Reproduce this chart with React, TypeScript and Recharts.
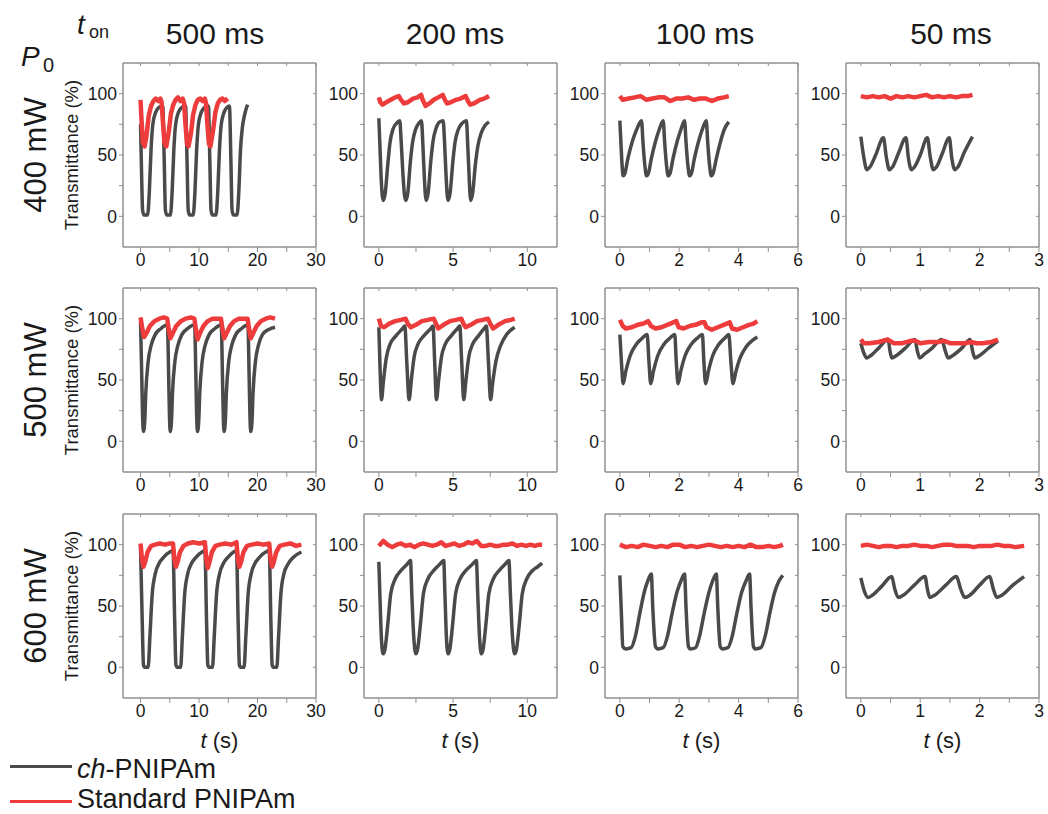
import { Line, LineChart, ReferenceArea, XAxis, YAxis } from "recharts";

type Pt = [number, number];

const pulseWidths = ["500 ms", "200 ms", "100 ms", "50 ms"];
const laserPowers = ["400 mW", "500 mW", "600 mW"];

const timeDomains: [number, number][] = [[-3, 30], [-1, 12], [-0.5, 6], [-0.25, 3]];
const timeTicks: number[][] = [
  [0, 5, 10, 15, 20, 25, 30],
  [0, 2.5, 5, 7.5, 10],
  [0, 1, 2, 3, 4, 5, 6],
  [0, 0.5, 1, 1.5, 2, 2.5, 3],
];
const timeLabelSteps = [10, 5, 2, 1];
const transDomain: [number, number] = [-25, 125];
const transTicks = [0, 25, 50, 75, 100];
const transLabelStep = 50;

// ---- 400 mW ----
const ch400_500: Pt[] = [
  [0, 75], [0.2, 30], [0.35, 5], [0.6, 1], [1.2, 1], [1.5, 20], [1.8, 55], [2.1, 75], [2.6, 85], [3.2, 89],
  [3.8, 90], [4.05, 45], [4.25, 5], [4.5, 1], [5.1, 1], [5.4, 20], [5.7, 55], [6.0, 75], [6.5, 85], [7.1, 89],
  [7.7, 90], [7.95, 45], [8.15, 5], [8.4, 1], [9.0, 1], [9.3, 20], [9.6, 55], [9.9, 75], [10.4, 85], [11.0, 89],
  [11.6, 90], [11.85, 45], [12.05, 5], [12.3, 1], [12.9, 1], [13.2, 20], [13.5, 55], [13.8, 75], [14.3, 85], [14.8, 89],
  [15.2, 90], [15.45, 45], [15.65, 5], [15.9, 1], [16.5, 1], [16.8, 20], [17.1, 55], [17.4, 72], [17.8, 83], [18.3, 91],
];
const std400_500: Pt[] = [
  [0, 95], [0.15, 80], [0.4, 60], [0.7, 57], [1.0, 65], [1.4, 82], [1.8, 90], [2.2, 94], [2.6, 96], [3.0, 94], [3.4, 96],
  [3.6, 93], [3.85, 75], [4.1, 60], [4.4, 57], [4.8, 68], [5.2, 84], [5.6, 91], [6.0, 95], [6.4, 97], [6.8, 94], [7.2, 96],
  [7.45, 92], [7.7, 74], [7.95, 59], [8.2, 57], [8.6, 67], [9.0, 83], [9.4, 91], [9.8, 95], [10.2, 96], [10.6, 94], [11.0, 96],
  [11.2, 92], [11.45, 74], [11.7, 59], [11.95, 57], [12.4, 70], [12.8, 85], [13.2, 92], [13.6, 95], [14.0, 96], [14.4, 94], [14.9, 96],
];
const ch400_200: Pt[] = [
  [0, 80], [0.08, 55], [0.17, 28], [0.29, 13], [0.42, 18], [0.6, 42], [0.75, 60], [0.95, 71], [1.2, 76], [1.41, 78],
  [1.5, 62], [1.62, 35], [1.72, 18], [1.82, 13], [1.95, 19], [2.12, 44], [2.28, 61], [2.48, 71], [2.7, 76], [2.87, 78],
  [2.96, 60], [3.06, 33], [3.13, 18], [3.19, 13], [3.32, 19], [3.5, 45], [3.66, 62], [3.86, 72], [4.1, 77], [4.33, 78],
  [4.42, 62], [4.52, 35], [4.6, 18], [4.66, 13], [4.8, 19], [4.98, 44], [5.14, 61], [5.36, 71], [5.62, 76], [5.9, 78],
  [5.98, 60], [6.08, 33], [6.14, 18], [6.19, 13], [6.32, 19], [6.5, 42], [6.68, 58], [6.9, 68], [7.15, 74], [7.42, 77],
];
const std400_200: Pt[] = [
  [0, 97], [0.1, 93], [0.25, 91], [0.5, 93], [0.8, 95], [1.1, 97], [1.35, 98], [1.5, 95], [1.7, 92], [1.95, 93],
  [2.3, 96], [2.6, 97], [2.85, 99], [2.95, 95], [3.15, 90], [3.4, 92], [3.7, 95], [4.0, 97], [4.3, 99], [4.45, 95],
  [4.6, 92], [4.85, 93], [5.2, 95], [5.5, 96], [5.85, 98], [6.0, 94], [6.15, 91], [6.4, 92], [6.8, 95], [7.1, 96], [7.42, 98],
];
const ch400_100: Pt[] = [
  [0, 78], [0.04, 58], [0.08, 40], [0.11, 33], [0.17, 35], [0.27, 47], [0.42, 61], [0.57, 71], [0.73, 78],
  [0.78, 60], [0.84, 42], [0.9, 33], [0.96, 35], [1.06, 47], [1.2, 61], [1.33, 71], [1.46, 78],
  [1.51, 60], [1.57, 42], [1.63, 33], [1.69, 35], [1.79, 47], [1.93, 61], [2.06, 71], [2.18, 78],
  [2.23, 60], [2.29, 42], [2.35, 33], [2.41, 35], [2.51, 47], [2.65, 61], [2.78, 71], [2.91, 78],
  [2.96, 60], [3.02, 42], [3.08, 33], [3.14, 35], [3.24, 46], [3.38, 60], [3.52, 71], [3.67, 77],
];
const std400_100: Pt[] = [
  [0, 98], [0.1, 95], [0.3, 96], [0.5, 97], [0.7, 98], [0.9, 95], [1.1, 96], [1.3, 97], [1.5, 97], [1.7, 94],
  [1.9, 96], [2.1, 96], [2.3, 97], [2.5, 95], [2.7, 96], [2.9, 96], [3.1, 94], [3.3, 96], [3.5, 97], [3.67, 98],
];
const ch400_50: Pt[] = [
  [0, 65], [0.05, 48], [0.1, 38], [0.15, 40], [0.25, 50], [0.38, 64], [0.43, 48], [0.48, 38], [0.53, 40], [0.63, 51],
  [0.76, 64], [0.8, 48], [0.85, 38], [0.9, 40], [1.0, 50], [1.12, 64], [1.17, 48], [1.22, 38], [1.27, 40], [1.37, 51],
  [1.49, 64], [1.53, 48], [1.58, 38], [1.63, 40], [1.74, 52], [1.88, 65],
];
const std400_50: Pt[] = [
  [0, 98], [0.1, 97], [0.2, 98], [0.3, 97], [0.4, 98], [0.5, 96], [0.6, 98], [0.7, 97], [0.8, 98], [0.9, 97],
  [1.0, 98], [1.1, 99], [1.2, 97], [1.3, 98], [1.4, 97], [1.5, 98], [1.6, 97], [1.7, 98], [1.8, 98], [1.88, 99],
];

// ---- 500 mW ----
const ch500_500: Pt[] = [
  [0, 97], [0.2, 55], [0.35, 20], [0.5, 8], [0.7, 15], [0.9, 40], [1.3, 65], [1.8, 78], [2.5, 87], [3.5, 92],
  [4.6, 95], [4.8, 55], [4.95, 20], [5.07, 8], [5.27, 15], [5.47, 40], [5.87, 65], [6.37, 78], [7.07, 87], [8.07, 92],
  [9.25, 95], [9.45, 55], [9.6, 20], [9.73, 8], [9.93, 15], [10.13, 40], [10.53, 65], [11.03, 78], [11.73, 87], [12.73, 92],
  [13.8, 95], [14.0, 55], [14.15, 20], [14.28, 8], [14.48, 15], [14.68, 40], [15.08, 65], [15.58, 78], [16.28, 87], [17.28, 92],
  [18.36, 95], [18.56, 55], [18.71, 20], [18.84, 8], [19.04, 15], [19.24, 40], [19.64, 65], [20.14, 78], [20.84, 87], [21.84, 91], [23, 93],
];
const std500_500: Pt[] = [
  [0, 101], [0.3, 92], [0.6, 85], [1.0, 88], [1.6, 94], [2.4, 98], [3.2, 100], [4.0, 101], [4.55, 100],
  [4.8, 92], [5.1, 84], [5.5, 88], [6.1, 94], [6.9, 98], [7.7, 100], [8.6, 101], [9.2, 100],
  [9.45, 92], [9.75, 83], [10.15, 88], [10.75, 94], [11.5, 98], [12.3, 100], [13.2, 100], [13.75, 100],
  [14.0, 92], [14.3, 84], [14.7, 88], [15.3, 94], [16.0, 98], [16.8, 100], [17.6, 100], [18.3, 100],
  [18.55, 92], [18.85, 84], [19.25, 88], [19.85, 94], [20.6, 98], [21.4, 100], [22.2, 101], [23, 100],
];
const ch500_200: Pt[] = [
  [0, 93], [0.08, 60], [0.18, 34], [0.3, 48], [0.5, 68], [0.75, 79], [1.15, 86], [1.6, 92], [1.75, 94],
  [1.88, 65], [2.04, 34], [2.18, 49], [2.38, 69], [2.63, 79], [3.03, 86], [3.5, 92], [3.65, 94],
  [3.76, 65], [3.88, 34], [4.02, 49], [4.22, 69], [4.47, 79], [4.87, 86], [5.3, 92], [5.45, 94],
  [5.58, 65], [5.72, 34], [5.86, 49], [6.06, 69], [6.31, 79], [6.71, 86], [7.1, 92], [7.24, 94],
  [7.38, 65], [7.53, 34], [7.67, 48], [7.9, 66], [8.2, 78], [8.6, 87], [9.15, 93],
];
const std500_200: Pt[] = [
  [0, 100], [0.15, 94], [0.35, 93], [0.7, 96], [1.1, 98], [1.5, 99], [1.8, 100], [1.95, 96], [2.15, 93],
  [2.5, 95], [2.9, 98], [3.3, 99], [3.7, 100], [3.85, 96], [4.0, 92], [4.35, 95], [4.8, 98], [5.2, 99],
  [5.55, 100], [5.7, 96], [5.85, 93], [6.2, 95], [6.6, 98], [7.0, 99], [7.35, 100], [7.5, 96], [7.7, 92],
  [8.05, 95], [8.5, 98], [8.9, 99], [9.15, 100],
];
const ch500_100: Pt[] = [
  [0, 87], [0.06, 62], [0.11, 47], [0.2, 57], [0.35, 70], [0.55, 79], [0.75, 84], [0.92, 87],
  [0.98, 65], [1.04, 47], [1.13, 57], [1.28, 70], [1.48, 79], [1.68, 84], [1.85, 87],
  [1.9, 65], [1.96, 47], [2.05, 57], [2.2, 70], [2.4, 79], [2.6, 84], [2.78, 87],
  [2.83, 65], [2.89, 47], [2.98, 57], [3.13, 70], [3.33, 79], [3.53, 84], [3.67, 87],
  [3.74, 65], [3.81, 47], [3.9, 56], [4.05, 68], [4.25, 77], [4.45, 82], [4.63, 85],
];
const std500_100: Pt[] = [
  [0, 99], [0.1, 94], [0.2, 92], [0.4, 93], [0.6, 95], [0.8, 96], [0.95, 98], [1.05, 94], [1.2, 92], [1.4, 93],
  [1.6, 95], [1.8, 97], [1.9, 98], [1.98, 93], [2.15, 92], [2.35, 94], [2.55, 95], [2.75, 97], [2.85, 97],
  [2.92, 93], [3.1, 91], [3.3, 93], [3.5, 95], [3.7, 97], [3.78, 92], [3.95, 91], [4.15, 93], [4.35, 95], [4.5, 96], [4.63, 98],
];
const ch500_50: Pt[] = [
  [0, 80], [0.05, 72], [0.1, 68], [0.17, 70], [0.3, 76], [0.46, 83], [0.49, 74], [0.52, 68], [0.6, 70], [0.75, 76],
  [0.91, 83], [0.95, 74], [0.99, 68], [1.07, 71], [1.2, 76], [1.36, 83], [1.42, 74], [1.47, 68], [1.55, 70], [1.7, 76],
  [1.84, 83], [1.88, 74], [1.92, 68], [2.0, 70], [2.15, 76], [2.31, 82],
];
const std500_50: Pt[] = [
  [0, 83], [0.05, 80], [0.15, 80], [0.3, 81], [0.45, 83], [0.55, 80], [0.7, 80], [0.85, 82], [0.92, 82], [1.0, 80],
  [1.15, 81], [1.3, 81], [1.4, 82], [1.5, 80], [1.6, 80], [1.75, 80], [1.85, 81], [1.95, 80], [2.05, 80], [2.2, 81], [2.31, 83],
];

// ---- 600 mW ----
const ch600_500: Pt[] = [
  [0, 97], [0.3, 35], [0.5, 2], [0.7, 0], [1.3, 0], [1.6, 25], [2.0, 60], [2.5, 76], [3.2, 85], [4.0, 90], [5.0, 94],
  [5.55, 95], [5.85, 35], [6.05, 2], [6.25, 0], [6.85, 0], [7.15, 25], [7.55, 60], [8.05, 76], [8.75, 85], [9.55, 90], [10.5, 94],
  [11.0, 95], [11.3, 35], [11.5, 2], [11.7, 0], [12.3, 0], [12.6, 25], [13.0, 60], [13.5, 76], [14.2, 85], [15.0, 90], [15.9, 94],
  [16.4, 95], [16.7, 35], [16.9, 2], [17.1, 0], [17.7, 0], [18.0, 25], [18.4, 60], [18.9, 76], [19.6, 85], [20.4, 90], [21.4, 94],
  [22.0, 95], [22.3, 35], [22.5, 2], [22.7, 0], [23.3, 0], [23.6, 25], [24.0, 60], [24.5, 76], [25.2, 84], [26.2, 90], [27.5, 94],
];
const std600_500: Pt[] = [
  [0, 101], [0.25, 88], [0.5, 82], [0.8, 86], [1.2, 94], [1.8, 99], [2.5, 100], [3.3, 101], [4.2, 100], [5.0, 101],
  [5.55, 101], [5.8, 88], [6.05, 82], [6.35, 86], [6.75, 94], [7.35, 99], [8.1, 101], [9.0, 102], [10.0, 101],
  [11.0, 102], [11.25, 88], [11.5, 81], [11.8, 86], [12.2, 94], [12.8, 99], [13.5, 100], [14.5, 101], [15.5, 100],
  [16.4, 102], [16.65, 88], [16.9, 82], [17.2, 86], [17.6, 94], [18.2, 99], [19.0, 100], [20.0, 101], [21.0, 100],
  [22.0, 101], [22.25, 88], [22.5, 82], [22.8, 86], [23.2, 94], [23.8, 99], [24.6, 100], [25.6, 101], [26.6, 99], [27.5, 100],
];
const ch600_200: Pt[] = [
  [0, 86], [0.08, 55], [0.18, 22], [0.29, 11], [0.4, 14], [0.6, 35], [0.8, 60], [1.1, 72], [1.5, 79], [1.9, 84], [2.13, 87],
  [2.22, 60], [2.35, 25], [2.49, 11], [2.6, 14], [2.8, 35], [3.0, 60], [3.3, 72], [3.7, 79], [4.1, 84], [4.37, 87],
  [4.45, 60], [4.55, 25], [4.66, 11], [4.77, 14], [4.97, 35], [5.17, 60], [5.47, 72], [5.87, 79], [6.3, 84], [6.57, 87],
  [6.66, 60], [6.78, 25], [6.9, 11], [7.01, 14], [7.21, 35], [7.41, 60], [7.71, 72], [8.11, 79], [8.5, 84], [8.76, 87],
  [8.86, 60], [9.0, 25], [9.15, 11], [9.26, 14], [9.46, 35], [9.66, 60], [9.96, 72], [10.36, 79], [10.7, 82], [11.0, 85],
];
const std600_200: Pt[] = [
  [0, 99], [0.3, 103], [0.6, 100], [0.9, 98], [1.2, 100], [1.5, 101], [1.8, 99], [2.1, 100], [2.4, 98], [2.7, 100],
  [3.0, 101], [3.3, 100], [3.6, 99], [3.9, 100], [4.2, 102], [4.5, 99], [4.8, 100], [5.1, 101], [5.4, 99], [5.7, 100],
  [6.0, 102], [6.3, 101], [6.6, 103], [6.9, 99], [7.2, 99], [7.5, 100], [7.8, 99], [8.1, 99], [8.4, 100], [8.7, 100],
  [9.0, 101], [9.3, 99], [9.6, 100], [9.9, 99], [10.2, 100], [10.5, 99], [10.8, 100], [11.0, 100],
];
const ch600_100: Pt[] = [
  [0, 75], [0.05, 45], [0.1, 17], [0.2, 15], [0.38, 16], [0.52, 25], [0.68, 45], [0.83, 62], [0.95, 71], [1.06, 76],
  [1.11, 48], [1.2, 17], [1.28, 15], [1.46, 16], [1.6, 25], [1.76, 44], [1.92, 61], [2.05, 70], [2.18, 76],
  [2.23, 48], [2.31, 17], [2.38, 15], [2.55, 16], [2.68, 25], [2.84, 44], [3.0, 61], [3.12, 70], [3.25, 76],
  [3.3, 48], [3.38, 17], [3.46, 15], [3.64, 16], [3.78, 25], [3.94, 44], [4.1, 61], [4.24, 70], [4.37, 76],
  [4.42, 48], [4.5, 17], [4.57, 15], [4.75, 16], [4.9, 26], [5.05, 44], [5.2, 60], [5.35, 70], [5.49, 75],
];
const std600_100: Pt[] = [
  [0, 100], [0.2, 98], [0.4, 99], [0.6, 98], [0.8, 100], [1.0, 99], [1.2, 98], [1.4, 99], [1.6, 98], [1.8, 100],
  [2.0, 100], [2.2, 98], [2.4, 99], [2.6, 98], [2.8, 99], [3.0, 100], [3.2, 99], [3.4, 98], [3.6, 99], [3.8, 98],
  [4.0, 99], [4.2, 98], [4.4, 100], [4.6, 98], [4.8, 98], [5.0, 99], [5.2, 98], [5.4, 99], [5.49, 100],
];
const ch600_50: Pt[] = [
  [0, 73], [0.06, 62], [0.12, 57], [0.2, 59], [0.35, 66], [0.52, 74], [0.57, 64], [0.63, 57], [0.72, 59], [0.9, 67],
  [1.08, 74], [1.12, 64], [1.16, 57], [1.25, 59], [1.43, 67], [1.61, 74], [1.68, 64], [1.75, 57], [1.84, 59], [2.0, 67],
  [2.17, 74], [2.23, 64], [2.29, 57], [2.38, 59], [2.56, 67], [2.75, 74],
];
const std600_50: Pt[] = [
  [0, 99], [0.1, 100], [0.2, 99], [0.3, 98], [0.4, 99], [0.5, 99], [0.6, 98], [0.7, 99], [0.8, 99], [0.9, 100],
  [1.0, 99], [1.1, 99], [1.2, 98], [1.3, 99], [1.4, 100], [1.5, 100], [1.6, 99], [1.7, 99], [1.8, 99], [1.9, 98],
  [2.0, 99], [2.1, 99], [2.2, 99], [2.3, 100], [2.4, 99], [2.5, 99], [2.6, 98], [2.75, 99],
];

const chTraces: Pt[][][] = [
  [ch400_500, ch400_200, ch400_100, ch400_50],
  [ch500_500, ch500_200, ch500_100, ch500_50],
  [ch600_500, ch600_200, ch600_100, ch600_50],
];
const stdTraces: Pt[][][] = [
  [std400_500, std400_200, std400_100, std400_50],
  [std500_500, std500_200, std500_100, std500_50],
  [std600_500, std600_200, std600_100, std600_50],
];

const GRAY = "#4a4a4a";
const RED = "#ee3b3b";
const FRAME = "#909090";
const INK = "#1a1a1a";
const FONT = "'Liberation Sans', Arial, Helvetica, sans-serif";

const PLOT_LEFT = [123, 364, 605, 846];
const PLOT_TOP = [63, 288, 514];
const PLOT_W = 193;
const PLOT_H = 184;
const Y_AXIS_W = 50;
const X_AXIS_H = 32;
const PAD_TOP = 6;
const PAD_RIGHT = 14;

const toRows = (pts: Pt[]) => pts.map(([t, v]) => ({ t, v }));

const everyNth = (step: number) => (v: number) =>
  Math.abs(v / step - Math.round(v / step)) < 1e-6 ? String(v) : "";

function Panel({ row, col }: { row: number; col: number }) {
  const domain = timeDomains[col];
  const ticks = timeTicks[col];
  const blank = () => "";
  const ch = toRows(chTraces[row][col]);
  return (
    <div
      style={{
        position: "absolute",
        left: PLOT_LEFT[col] - Y_AXIS_W,
        top: PLOT_TOP[row] - PAD_TOP,
      }}
    >
      <LineChart
        width={Y_AXIS_W + PLOT_W + PAD_RIGHT}
        height={PAD_TOP + PLOT_H + X_AXIS_H}
        margin={{ top: PAD_TOP, right: PAD_RIGHT, bottom: 0, left: 0 }}
      >
        <XAxis
          dataKey="t"
          type="number"
          domain={domain}
          ticks={ticks}
          interval={0}
          allowDataOverflow
          height={X_AXIS_H}
          tickSize={5}
          stroke={FRAME}
          tick={{ fill: INK, fontSize: 17.5, fontFamily: FONT }}
          tickFormatter={everyNth(timeLabelSteps[col])}
        />
        <XAxis
          xAxisId="top"
          orientation="top"
          dataKey="t"
          type="number"
          domain={domain}
          ticks={ticks}
          interval={0}
          allowDataOverflow
          height={1}
          mirror
          tickSize={3}
          stroke={FRAME}
          tickFormatter={blank}
        />
        <YAxis
          type="number"
          domain={transDomain}
          ticks={transTicks}
          interval={0}
          allowDataOverflow
          width={Y_AXIS_W}
          tickSize={4}
          stroke={FRAME}
          tick={{ fill: INK, fontSize: 17.5, fontFamily: FONT }}
          tickFormatter={everyNth(transLabelStep)}
        />
        <YAxis
          yAxisId="right"
          orientation="right"
          type="number"
          domain={transDomain}
          ticks={transTicks}
          interval={0}
          allowDataOverflow
          width={1}
          mirror
          tickSize={3}
          stroke={FRAME}
          tickFormatter={blank}
        />
        {/* plot frame */}
        <ReferenceArea
          x1={domain[0]}
          x2={domain[1]}
          y1={transDomain[0]}
          y2={transDomain[1]}
          fill="none"
          stroke={FRAME}
          strokeWidth={1}
          ifOverflow="visible"
        />
        {/* invisible copy so the mirrored top/right axes have a series */}
        <Line
          data={ch}
          dataKey="v"
          xAxisId="top"
          yAxisId="right"
          stroke="none"
          strokeOpacity={0}
          dot={false}
          activeDot={false}
          isAnimationActive={false}
        />
        <Line
          data={ch}
          dataKey="v"
          type="monotone"
          stroke={GRAY}
          strokeWidth={3.5}
          dot={false}
          isAnimationActive={false}
        />
        <Line
          data={toRows(stdTraces[row][col])}
          dataKey="v"
          type="linear"
          stroke={RED}
          strokeWidth={4.5}
          strokeLinejoin="round"
          dot={false}
          isAnimationActive={false}
        />
      </LineChart>
    </div>
  );
}

function Text({
  x,
  y,
  size,
  children,
  italic,
  center,
  rotate,
}: {
  x: number;
  y: number;
  size: number;
  children: React.ReactNode;
  italic?: boolean;
  center?: boolean;
  rotate?: boolean;
}) {
  const transform = rotate
    ? "translate(-50%, -50%) rotate(-90deg)"
    : center
      ? "translateX(-50%)"
      : undefined;
  return (
    <div
      style={{
        position: "absolute",
        left: x,
        top: y,
        fontSize: size,
        lineHeight: `${size}px`,
        fontStyle: italic ? "italic" : "normal",
        whiteSpace: "nowrap",
        transform,
        color: INK,
      }}
    >
      {children}
    </div>
  );
}

export default function App() {
  const titleCenters = [215, 455, 705, 951];
  return (
    <div
      style={{
        position: "absolute",
        left: 0,
        top: 0,
        width: 1048,
        height: 814,
        background: "#fff",
        fontFamily: FONT,
        overflow: "hidden",
      }}
    >
      {laserPowers.map((_, r) =>
        pulseWidths.map((__, c) => <Panel key={`${r}-${c}`} row={r} col={c} />),
      )}

      {/* corner symbols */}
      <Text x={77} y={11} size={28} italic>t</Text>
      <Text x={89} y={23} size={18}>on</Text>
      <Text x={21} y={43} size={28} italic>P</Text>
      <Text x={43} y={55} size={20}>0</Text>

      {pulseWidths.map((w, c) => (
        <Text key={w} x={titleCenters[c]} y={19} size={30} center>
          {w}
        </Text>
      ))}

      {laserPowers.map((p, r) => (
        <Text key={p} x={35} y={PLOT_TOP[r] + PLOT_H / 2} size={31} rotate>
          {p}
        </Text>
      ))}

      {laserPowers.map((p, r) => (
        <Text key={`tr-${p}`} x={72} y={PLOT_TOP[r] + PLOT_H / 2} size={18.5} rotate>
          Transmittance (%)
        </Text>
      ))}

      {pulseWidths.map((w, c) => (
        <Text key={`ts-${w}`} x={PLOT_LEFT[c] + PLOT_W / 2} y={730} size={22} center>
          <span style={{ fontStyle: "italic" }}>t</span> (s)
        </Text>
      ))}

      {/* legend */}
      <div style={{ position: "absolute", left: 10, top: 765, width: 62, height: 3, background: GRAY }} />
      <Text x={77} y={756} size={27}>
        <span style={{ fontStyle: "italic" }}>ch</span>-PNIPAm
      </Text>
      <div style={{ position: "absolute", left: 10, top: 800, width: 62, height: 3, background: RED }} />
      <Text x={77} y={786} size={27}>
        Standard PNIPAm
      </Text>
    </div>
  );
}
